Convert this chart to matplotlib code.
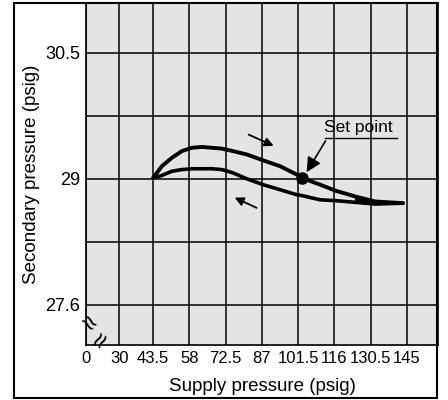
import numpy as np
import matplotlib
matplotlib.use("Agg")
import matplotlib.pyplot as plt
from matplotlib.patches import Rectangle

plt.rcParams['font.family'] = ['Liberation Sans', 'DejaVu Sans']

# supply pressure (psig) and secondary pressure (psig)
supply = [43.5, 47, 51, 55, 59, 63, 67, 71, 75.5, 81, 87.5, 94.3, 101, 103,
          110.3, 116.3, 124.3, 132.2, 143.4]
rising = [29.01, 29.15, 29.25, 29.33, 29.37, 29.38, 29.37, 29.36, 29.33, 29.29,
          29.22, 29.15, 29.05, 29.01, 28.93, 28.86, 28.79, 28.73, 28.71]
falling = [29.01, 29.04, 29.09, 29.11, 29.12, 29.12, 29.12, 29.11, 29.07, 29.0,
           28.93, 28.87, 28.81, 28.80, 28.75, 28.74, 28.72, 28.70, 28.71]
set_point = (103.1, 29.01)

x_ticks = [16.7, 30, 43.5, 58, 72.5, 87, 101.5, 116, 130.5, 145]
x_labels = ['0', '30', '43.5', '58', '72.5', '87', '101.5', '116', '130.5', '145']
y_ticks = [27.5, 28.25, 29.0, 29.75, 30.5]
y_labels = ['27.6', '', '29', '', '30.5']

fig = plt.figure(figsize=(4.48, 4.0), dpi=100)
ax = fig.add_axes([0.192, 0.1375, 0.7857, 0.855])
ax.set_facecolor('#e4e4e4')

ax.plot(supply, rising, color='k', lw=2.8, solid_capstyle='round', zorder=3)
ax.plot(supply, falling, color='k', lw=2.6, solid_capstyle='round', zorder=3)
s = np.array(supply)
ax.fill_between(s, rising, falling, where=s >= 124, color='k', zorder=3)
ax.plot(*set_point, 'o', color='k', ms=8, zorder=4)

# direction arrows
ax.annotate('', xy=(92.7, 29.38), xytext=(80.7, 29.54),
            arrowprops=dict(arrowstyle='-|>', lw=1.3, color='k', mutation_scale=13))
ax.annotate('', xy=(75.1, 28.79), xytext=(85.9, 28.64),
            arrowprops=dict(arrowstyle='-|>', lw=1.3, color='k', mutation_scale=13))

# set point callout
ax.text(125.4, 29.61, 'Set point', fontsize=12.5, ha='center', va='center')
ax.plot([112.2, 141.0], [29.49, 29.49], color='k', lw=1.0)
ax.annotate('', xy=(104.3, 29.05), xytext=(113.0, 29.48),
            arrowprops=dict(arrowstyle='-|>', lw=1.2, color='k', mutation_scale=22))

ax.set_xlim(16.7, 157.4)
ax.set_ylim(27.02, 31.095)
ax.set_xticks(x_ticks)
ax.set_xticklabels(x_labels, fontsize=12)
ax.set_yticks(y_ticks)
ax.set_yticklabels(y_labels, fontsize=13)
ax.tick_params(length=0, pad=4)
ax.grid(True, color='k', lw=1.1)
for sp in ax.spines.values():
    sp.set_linewidth(1.2)

# axis break marks
ax.text(0, 27.27, '≈', transform=ax.get_yaxis_transform(), fontsize=20,
        rotation=-40, ha='center', va='center', zorder=5)
ax.text(0.045, 0.01, '≈', transform=ax.transAxes, fontsize=20,
        rotation=60, ha='center', va='center', zorder=5, clip_on=False)

ax.set_xlabel('Supply pressure (psig)', fontsize=13.5, labelpad=9)
ax.set_ylabel('Secondary pressure (psig)', fontsize=13.5)
ax.yaxis.set_label_coords(-0.13, 0.5)

fig.patches.append(Rectangle((14 / 448, 0.005), (437 - 14) / 448, 0.988,
                             transform=fig.transFigure, fill=False, lw=1.5, ec='k'))

fig.savefig('out.png', dpi=100)
